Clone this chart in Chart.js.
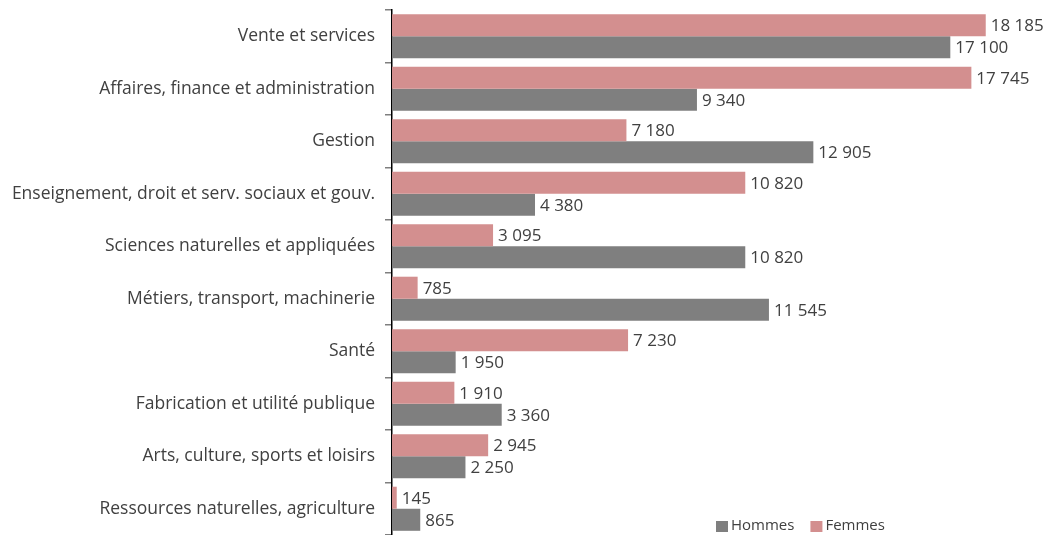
<!DOCTYPE html>
<html>
<head>
<meta charset="utf-8">
<script src="https://cdn.jsdelivr.net/npm/chart.js@4"></script>
<style>
html,body{margin:0;padding:0;background:#fff;}
#wrap{width:1049px;height:535px;position:relative;}
</style>
</head>
<body>
<div id="wrap"><canvas id="c" width="1049" height="535"></canvas></div>
<script>
const categories = [
  "Vente et services",
  "Affaires, finance et administration",
  "Gestion",
  "Enseignement, droit et serv. sociaux et gouv.",
  "Sciences naturelles et appliquées",
  "Métiers, transport, machinerie",
  "Santé",
  "Fabrication et utilité publique",
  "Arts, culture, sports et loisirs",
  "Ressources naturelles, agriculture"
];
const femmes = [18185, 17745, 7180, 10820, 3095, 785, 7230, 1910, 2945, 145];
const hommes = [17100, 9340, 12905, 4380, 10820, 11545, 1950, 3360, 2250, 865];
const xMax = 20000;

const FONT = "'Open Sans', 'Noto Sans', sans-serif";
const TEXT = "#404040";
const PINK = "#D38F8F";
const GRAY = "#7F7F7F";

function fmt(v){ return String(v).replace(/\B(?=(\d{3})+(?!\d))/g, " "); }

const valueLabels = {
  id: 'valueLabels',
  afterDatasetsDraw(chart){
    const ctx = chart.ctx;
    ctx.save();
    ctx.font = "17px " + FONT;
    ctx.fillStyle = TEXT;
    ctx.textAlign = "left";
    ctx.textBaseline = "middle";
    chart.data.datasets.forEach((ds, i) => {
      const meta = chart.getDatasetMeta(i);
      meta.data.forEach((bar, j) => {
        ctx.fillText(fmt(ds.data[j]), bar.x + 5, bar.y + 1);
      });
    });
    ctx.restore();
  }
};

const customLegend = {
  id: 'customLegend',
  afterDraw(chart){
    const ctx = chart.ctx;
    ctx.save();
    ctx.font = "15px " + FONT;
    ctx.textBaseline = "middle";
    ctx.textAlign = "left";
    const items = [["Hommes", GRAY], ["Femmes", PINK]];
    let x = 716;
    const y = 526;
    items.forEach(([t, c]) => {
      ctx.fillStyle = c;
      ctx.fillRect(x, y - 5, 12, 11);
      ctx.fillStyle = TEXT;
      ctx.fillText(t, x + 15, y);
      x += 15 + ctx.measureText(t).width + 16;
    });
    ctx.restore();
  }
};

new Chart(document.getElementById('c'), {
  type: 'bar',
  data: {
    labels: categories,
    datasets: [
      { label: 'Femmes', data: femmes, backgroundColor: PINK, categoryPercentage: 0.84, barPercentage: 1.0 },
      { label: 'Hommes', data: hommes, backgroundColor: GRAY, categoryPercentage: 0.84, barPercentage: 1.0 }
    ]
  },
  options: {
    indexAxis: 'y',
    responsive: false,
    animation: false,
    layout: { padding: { top: 10, right: 4, bottom: 0, left: 0 } },
    plugins: {
      legend: { display: false },
      tooltip: { enabled: false }
    },
    scales: {
      x: {
        display: false,
        min: 0,
        max: xMax
      },
      y: {
        afterFit(scale){
          scale.width = 392;
          scale.paddingTop = 0;
          scale.paddingBottom = 0;
        },
        border: { display: true, color: '#000', width: 1.5 },
        grid: { display: true, offset: true, drawOnChartArea: false, tickLength: 7, color: '#7F7F7F', lineWidth: 1.5 },
        ticks: { color: TEXT, font: { size: 17.5, family: FONT }, padding: 10 }
      }
    }
  },
  plugins: [valueLabels, customLegend]
});
</script>
</body>
</html>
